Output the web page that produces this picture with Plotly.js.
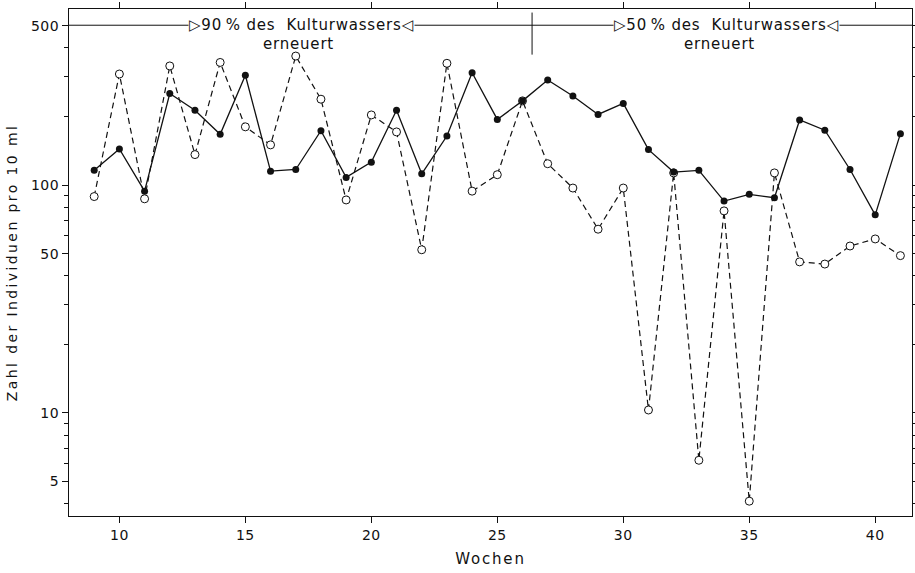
<!DOCTYPE html>
<html>
<head>
<meta charset="utf-8">
<script src="https://cdn.plot.ly/plotly-3.0.1.min.js"></script>
<style>
  html, body { margin: 0; padding: 0; background: #fff; }
  #chart { width: 915px; height: 573px; }
  text.ytitle { letter-spacing: 2.4px; }
  text.xtitle { letter-spacing: 1.8px; }
  text.annotation-text { letter-spacing: 0.8px; }
  .xtick text, .ytick text { letter-spacing: 0.5px; }
</style>
</head>
<body>
<div id="chart"></div>
<script>
// Weeks (Wochen)
const weeks = [9,10,11,12,13,14,15,16,17,18,19,20,21,22,23,24,25,26,27,28,29,30,31,32,33,34,35,36,37,38,39,40,41];

// Series with filled markers, solid line (individuals per 10 ml)
const filledSeries = [116,144,94,252,213,167,303,115,117,173,108,126,213,112,164,311,194,234,289,246,204,228,143,114,116,85,91,88,193,174,117,74,168];

// Series with open markers, dashed line (individuals per 10 ml)
const openSeries = [89,307,87,333,136,345,180,150,368,238,86,203,171,52,342,94,111,234,124,97,64,97,10.3,113,6.2,77,4.1,113,46,45,54,58,49];

// Y axis labels and minor ticks
const yTickVals = [5,10,50,100,500];
const yTickText = ['5','10','50','100','500'];
const yMinorVals = [4,6,7,8,9,20,30,40,60,70,80,90,200,300,400];

// X axis ticks
const xTickVals = [10,15,20,25,30,35,40];

// Annotation texts
const label90 = '\u25B790\u2009% des\u00A0\u00A0Kulturwassers\u25C1';
const label50 = '\u25B750\u2009% des\u00A0\u00A0Kulturwassers\u25C1';
const labelSub = 'erneuert';

const FONT = 'DejaVu Sans, Arial, sans-serif';
const INK = '#111';

const traces = [
  {
    x: weeks, y: openSeries, type: 'scatter', mode: 'lines+markers',
    line: { color: INK, width: 1.2, dash: '6px,4px' },
    marker: { symbol: 'circle', size: 8, color: '#fff', line: { color: INK, width: 1 } },
    showlegend: false, cliponaxis: false
  },
  {
    x: weeks, y: filledSeries, type: 'scatter', mode: 'lines+markers',
    line: { color: INK, width: 1.3 },
    marker: { symbol: 'circle', size: 7, color: INK },
    showlegend: false, cliponaxis: false
  }
];

const yLine = Math.log10(500);

const layout = {
  width: 915, height: 573,
  margin: { l: 69, r: 3, t: 9, b: 57 },
  paper_bgcolor: '#fff', plot_bgcolor: '#fff',
  font: { family: FONT, color: INK, size: 14 },
  xaxis: {
    range: [8, 41.46],
    tickmode: 'array', tickvals: xTickVals,
    ticks: 'outside', ticklen: 6, tickwidth: 1, tickcolor: INK,
    showline: true, linecolor: INK, linewidth: 1, mirror: 'ticks',
    showgrid: false, zeroline: false,
    tickfont: { family: FONT, size: 14, color: INK },
    title: { text: 'Wochen', font: { family: FONT, size: 15, color: INK }, standoff: 11 }
  },
  yaxis: {
    type: 'log',
    range: [Math.log10(3.53), Math.log10(592)],
    tickmode: 'array', tickvals: yTickVals, ticktext: yTickText,
    ticks: 'outside', ticklen: 6, tickwidth: 1, tickcolor: INK,
    minor: { tickmode: 'array', tickvals: yMinorVals, ticks: 'outside', ticklen: 4, tickwidth: 1, tickcolor: INK, showgrid: false },
    showline: true, linecolor: INK, linewidth: 1, mirror: 'ticks',
    showgrid: false, zeroline: false,
    tickfont: { family: FONT, size: 14, color: INK },
    title: { text: 'Zahl der Individuen pro 10 ml', font: { family: FONT, size: 14, color: INK }, standoff: 10 }
  },
  shapes: [
    { type: 'line', xref: 'paper', yref: 'paper', x0: 0, x1: 1, y0: 0.968, y1: 0.968, line: { color: INK, width: 1 } },
    { type: 'line', xref: 'x', yref: 'paper', x0: 26.38, x1: 26.38, y0: 0.91, y1: 0.993, line: { color: INK, width: 1 } }
  ],
  annotations: [
    { xref: 'x', yref: 'paper', x: 17.22, y: 0.968, text: label90, showarrow: false, xanchor: 'center', yanchor: 'middle',
      bgcolor: '#fff', borderpad: 0, font: { family: FONT, size: 15, color: INK } },
    { xref: 'x', yref: 'paper', x: 17.1, y: 0.931, text: labelSub, showarrow: false, xanchor: 'center', yanchor: 'middle',
      font: { family: FONT, size: 15, color: INK } },
    { xref: 'x', yref: 'paper', x: 34.09, y: 0.968, text: label50, showarrow: false, xanchor: 'center', yanchor: 'middle',
      bgcolor: '#fff', borderpad: 0, font: { family: FONT, size: 15, color: INK } },
    { xref: 'x', yref: 'paper', x: 33.8, y: 0.931, text: labelSub, showarrow: false, xanchor: 'center', yanchor: 'middle',
      font: { family: FONT, size: 15, color: INK } }
  ]
};

Plotly.newPlot('chart', traces, layout, { displayModeBar: false, staticPlot: true });
</script>
</body>
</html>
